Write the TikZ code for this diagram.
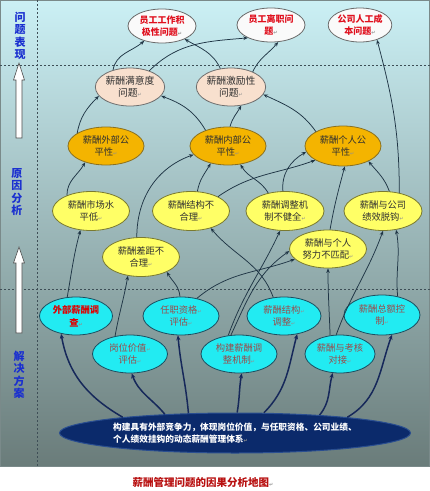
\documentclass[tikz,border=0pt]{standalone}
\usepackage{fontspec}
\setmainfont{Noto Sans CJK SC}
\newfontfamily\symfnt{DejaVu Sans}
\usetikzlibrary{shapes.geometric,arrows.meta}
\definecolor{bgTop}{HTML}{CBF0F5}
\definecolor{bgMid}{HTML}{9CC3C6}
\definecolor{bgBot}{HTML}{6A7C7A}
\definecolor{panelc}{HTML}{7A8A8A}
\definecolor{dashc}{HTML}{3E4E56}
\definecolor{Afill}{HTML}{FAFAFA}
\definecolor{Adraw}{HTML}{6A6A6A}
\definecolor{Atxt}{HTML}{E0101E}
\definecolor{Bfill}{HTML}{F8E0CE}
\definecolor{Bdraw}{HTML}{6E6E6E}
\definecolor{Cfill}{HTML}{F4B400}
\definecolor{Cdraw}{HTML}{8A7020}
\definecolor{Dfill}{HTML}{FFFF66}
\definecolor{Ddraw}{HTML}{7A7A30}
\definecolor{Efill}{HTML}{22EBF2}
\definecolor{Edraw}{HTML}{1C4E60}
\definecolor{Etxt}{HTML}{9C4A4A}
\definecolor{E1txt}{HTML}{E00000}
\definecolor{Ffill}{HTML}{0B2A6B}
\definecolor{Fdraw}{HTML}{2A4E90}
\definecolor{txtc}{HTML}{303030}
\definecolor{edgec}{HTML}{1F3545}
\definecolor{navyE}{HTML}{16285A}
\definecolor{labc}{HTML}{1A2FD0}
\definecolor{capc}{HTML}{B81010}
\definecolor{retc}{HTML}{909090}
\newcommand\rmk{{\symfnt\fontsize{5}{5}\selectfont\color{retc}↵}}
\begin{document}
\begin{tikzpicture}[x=1pt,y=1pt,
  every node/.style={inner sep=0pt},
  ell/.style={ellipse, line width=0.8pt, align=center, text=txtc,
    font=\fontsize{9.3}{12.7}\selectfont},
  nA/.style={ell, fill=Afill, draw=Adraw, minimum width=68pt, minimum height=34pt,
    text=Atxt, font=\fontsize{9}{12.5}\selectfont\bfseries},
  nB/.style={ell, fill=Bfill, draw=Bdraw, minimum width=68pt, minimum height=38pt,
    font=\fontsize{9.8}{12}\selectfont},
  nC/.style={ell, fill=Cfill, draw=Cdraw, minimum width=76pt, minimum height=38pt},
  nD/.style={ell, fill=Dfill, draw=Ddraw, minimum width=77pt, minimum height=39pt},
  nE/.style={ell, fill=Efill, draw=Edraw, minimum width=75pt, minimum height=38pt, text=Etxt},
  nF/.style={ellipse, fill=Ffill, draw=Fdraw, line width=1pt, minimum width=351pt,
    minimum height=40pt, align=left, text=white, font=\fontsize{8.7}{12.7}\selectfont\bfseries},
  lab/.style={align=center, text=labc, font=\fontsize{11}{12.5}\selectfont\bfseries},
  conn/.style={draw=edgec, line width=0.75pt, -{Stealth[length=4.5pt,width=3.6pt]}},
  base/.style={draw=navyE, line width=1.5pt, -{Stealth[length=5pt,width=4.2pt]}},
  dashline/.style={draw=dashc, line width=0.6pt, dash pattern=on 2pt off 2pt},
  blockarrow/.style={fill=white, draw=black!70, line width=0.6pt}
]
\useasboundingbox (0,0) rectangle (430,-491);
\fill[white] (0,0) rectangle (430,-491);
\shade[top color=bgTop, middle color=bgMid, bottom color=bgBot] (0,0) rectangle (430,-466);
\draw[panelc, line width=0.8pt] (0.4,-0.4) rectangle (429.6,-466);
\draw[dashline] (37,0) -- (37,-466);
\draw[dashline] (0,-65) -- (430,-65);
\draw[dashline] (0,-289) -- (430,-289);

% left side labels and arrows
\node[lab] (L1) at (20,-36) {问\\题\\表\\现};
\node[lab] (L2) at (17,-192) {原\\因\\分\\析};
\node[lab] (L3) at (19,-375) {解\\决\\方\\案};
\draw[blockarrow] (19,-63) -- (24.5,-80) -- (22,-80) -- (22,-138) -- (16,-138) -- (16,-80) -- (13.5,-80) -- cycle;
\draw[blockarrow] (19,-247) -- (24.5,-263) -- (22,-263) -- (22,-333) -- (16,-333) -- (16,-263) -- (13.5,-263) -- cycle;

% nodes
\node[nA] (A1) at (162,-26) {员工工作积\\极性问题\rmk};
\node[nA] (A2) at (271,-25) {员工离职问\\题\rmk};
\node[nA, minimum width=62pt] (A3) at (360,-25) {公司人工成\\本问题\rmk};

\node[nB] (B1) at (130,-87) {薪酬满意度\\问题\rmk};
\node[nB] (B2) at (231,-87) {薪酬激励性\\问题\rmk};

\node[nC] (C1) at (106,-146) {薪酬外部公\\平性\rmk};
\node[nC] (C2) at (228,-146) {薪酬内部公\\平性\rmk};
\node[nC, minimum height=40pt] (C3) at (343,-146) {薪酬个人公\\平性\rmk};

\node[nD] (D1) at (91,-211) {薪酬市场水\\平低\rmk};
\node[nD] (D2) at (191,-211) {薪酬结构不\\合理\rmk};
\node[nD, minimum width=78pt] (D3) at (285,-211) {薪酬调整机\\制不健全\rmk};
\node[nD, minimum width=78pt] (D4) at (383,-211) {薪酬与公司\\绩效脱钩\rmk};
\node[nD] (D5) at (141,-257) {薪酬差距不\\合理\rmk};
\node[nD, minimum height=38pt] (D6) at (328,-249) {薪酬与个人\\努力不匹配\rmk};

\node[nE, minimum width=73pt, text=E1txt, font=\fontsize{9.3}{12.7}\selectfont\bfseries] (E1) at (76,-316) {外部薪酬调\\查\rmk};
\node[nE, minimum width=76pt] (E2) at (181,-316) {任职资格\rmk\\评估\rmk};
\node[nE, minimum width=74pt] (E3) at (284,-316) {薪酬结构\rmk\\调整\rmk};
\node[nE, minimum width=76pt, minimum height=40pt] (E4) at (382,-315) {薪酬总额控\\制\rmk};
\node[nE] (E5) at (130,-354) {岗位价值\rmk\\评估\rmk};
\node[nE, minimum width=76pt] (E6) at (239,-354) {构建薪酬调\\整机制\rmk};
\node[nE, minimum width=70pt] (E7) at (340,-354) {薪酬与考核\\对接\rmk};

\node[nF] (F) at (235,-433) {构建具有外部竞争力，体现岗位价值，与任职资格、公司业绩、\\个人绩效挂钩的动态薪酬管理体系\rmk};

\node[text=capc, font=\fontsize{10.5}{12}\selectfont\bfseries] (cap) at (203,-482) {薪酬管理问题的因果分析地图\rmk};

% top level connectors
\draw[conn] (B1.135) to[out=80,in=220] (A1.220);
\draw[conn] (B1.40) to[out=45,in=185] (A2.209);
\draw[conn] (B2.120) to[out=115,in=330] (A1.330);
\draw[conn] (B2.35) to[out=65,in=230] (A2.293);
\draw[conn] (D4.48) to[out=90,in=285] (A3.319);

% second level
\draw[conn] (C1.156) to[out=80,in=225] (B1.196);
\draw[conn] (C2.145) to[out=120,in=340] (B1.344);
\draw[conn] (C2.84) to[out=75,in=240] (B2.299);
\draw[conn] (C3.152) to[out=125,in=335] (B2.347);

% third level
\draw[conn] (D1.147) to[out=90,in=240] (C1.218);
\draw[conn] (D5.102) to[out=90,in=200] (C2.194);
\draw[conn] (D2.72) to[out=80,in=240] (C2.225);
\draw[conn] (D2.28) to[out=35,in=200] (C3.207);
\draw[conn] (D3.133) to[out=120,in=300] (C2.304);
\draw[conn] (D3.96) to[out=95,in=210] (C3.189);
\draw[conn] (D6.84) to[out=80,in=255] (C3.275);
\draw[conn] (D4.72) to[out=110,in=310] (C3.329);

% fourth level
\draw[conn] (E1.115) to[out=80,in=255] (D1.241);
\draw[conn] (E5.130) to[out=80,in=260] (D5.235);
\draw[conn] (E2.93) to[out=95,in=300] (D5.330);
\draw[conn] (E2.48) to[out=40,in=200] (D6.197);
\draw[conn] (E3.120) to[out=110,in=310] (D2.319);
\draw[conn] (E6.120) to[out=70,in=245] (D3.256);
\draw[conn] (E6.113) to[out=65,in=215] (D6.183);
\draw[conn] (E7.118) to[out=92,in=270] (D6.270);
\draw[conn] (E7.101) to[out=70,in=250] (D4.270);
\draw[conn] (E4.50) to[out=95,in=280] (D4.305);

% base connectors
\draw[base] (F.172) to[out=150,in=280] (E1.230);
\draw[base] (F.165) to[out=130,in=290] (E5.275);
\draw[base] (F.157) to[out=95,in=275] (E2.261);
\draw[base] (F.84) to[out=80,in=260] (E6.278);
\draw[base] (F.35) to[out=45,in=255] (E3.306);
\draw[base] (F.12) to[out=50,in=255] (E7.249);
\draw[base] (F.8) to[out=30,in=250] (E4.297);
\end{tikzpicture}
\end{document}
